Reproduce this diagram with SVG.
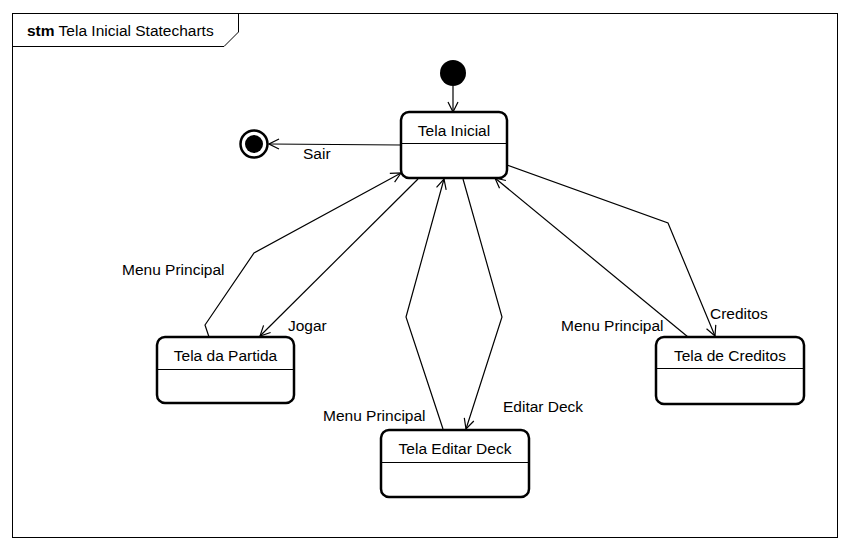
<svg xmlns="http://www.w3.org/2000/svg" width="850" height="550" viewBox="0 0 850 550">
<style>
text{font-family:"Liberation Sans",Arial,sans-serif;font-size:15.5px;fill:#000}
.st{fill:#fff;stroke:#000;stroke-width:2.5}
.dv{stroke:#000;stroke-width:1}
.c{fill:none;stroke:#000;stroke-width:1.2}
.ah{fill:none;stroke:#000;stroke-width:1.2}
</style>
<defs>
<marker id="open" viewBox="0 0 12 12" refX="11" refY="6" markerWidth="12" markerHeight="12" markerUnits="userSpaceOnUse" orient="auto">
<path d="M1,1 L11,6 L1,11" class="ah"/>
</marker>
</defs>
<rect width="850" height="550" fill="#fff"/>
<g id="frame">
<rect x="12.5" y="13.5" width="825" height="524" fill="none" stroke="#000" stroke-width="1"/>
<path d="M12.5,46.5 H224 L238.5,32 V13.5" fill="none" stroke="#000" stroke-width="1"/>
<text x="27" y="36"><tspan font-weight="bold">stm</tspan> Tela Inicial Statecharts</text>
</g>
<g id="connectors">
<path class="c" d="M453,86 V112" marker-end="url(#open)"/>
<path class="c" d="M401,145 L269,144" marker-end="url(#open)"/>
<path class="c" d="M209,337 L205,325 L254,253 L401,173" marker-end="url(#open)"/>
<path class="c" d="M418,179 L260,336" marker-end="url(#open)"/>
<path class="c" d="M443,429 L406,317 L444,179" marker-end="url(#open)"/>
<path class="c" d="M463,179 L502,317 L466,429" marker-end="url(#open)"/>
<path class="c" d="M688,337 L495,178" marker-end="url(#open)"/>
<path class="c" d="M507,165 L668,223 L715,336" marker-end="url(#open)"/>
<text x="303" y="159">Sair</text>
<text x="122" y="275">Menu Principal</text>
<text x="288" y="331">Jogar</text>
<text x="323" y="421">Menu Principal</text>
<text x="503" y="412">Editar Deck</text>
<text x="561" y="331">Menu Principal</text>
<text x="710" y="319">Creditos</text>
</g>
<g id="initial">
<circle cx="453" cy="73" r="13" fill="#000"/>
</g>
<g id="final">
<circle cx="254" cy="144" r="13.5" fill="#fff" stroke="#000" stroke-width="2.5"/>
<circle cx="254" cy="144" r="9" fill="#000"/>
</g>
<g id="tela-inicial">
<rect class="st" x="401" y="112" width="106" height="66" rx="8"/>
<line class="dv" x1="401" y1="143.5" x2="507" y2="143.5"/>
<text x="454" y="136" text-anchor="middle">Tela Inicial</text>
</g>
<g id="tela-partida">
<rect class="st" x="157" y="337" width="137" height="66" rx="8"/>
<line class="dv" x1="157" y1="369.5" x2="294" y2="369.5"/>
<text x="225.5" y="361" text-anchor="middle">Tela da Partida</text>
</g>
<g id="tela-editar-deck">
<rect class="st" x="381" y="430" width="148" height="67" rx="8"/>
<line class="dv" x1="381" y1="462.5" x2="529" y2="462.5"/>
<text x="455" y="454" text-anchor="middle">Tela Editar Deck</text>
</g>
<g id="tela-creditos">
<rect class="st" x="656" y="337" width="148" height="67" rx="8"/>
<line class="dv" x1="656" y1="368.5" x2="804" y2="368.5"/>
<text x="730" y="361" text-anchor="middle">Tela de Creditos</text>
</g>
</svg>
